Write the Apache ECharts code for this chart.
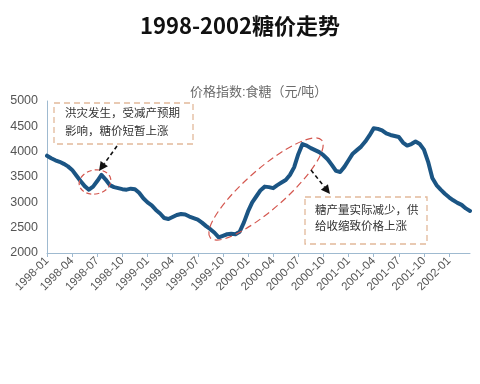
<!DOCTYPE html>
<html>
<head>
<meta charset="utf-8">
<script src="https://cdn.jsdelivr.net/npm/echarts@6/dist/echarts.min.js"></script>
<style>html,body{margin:0;padding:0;background:#fff;}#c{width:480px;height:384px;}</style>
</head>
<body>
<div id="c"></div>
<script>
// Semi-monthly observations from 1998-01 to 2002-03
const startYear = 1998;
const halfMonthCount = 102;
const sugarPrice = [
  3920, 3870, 3830, 3800, 3760, 3710, 3640, 3530, 3420, 3320,
  3250, 3310, 3420, 3540, 3450, 3340, 3300, 3280, 3260, 3250,
  3270, 3260, 3190, 3080, 3000, 2940, 2850, 2780, 2690, 2670,
  2710, 2750, 2770, 2760, 2720, 2690, 2660, 2600, 2530, 2470,
  2400, 2310, 2340, 2370, 2380, 2370, 2420, 2600, 2820, 3000,
  3120, 3240, 3310, 3300, 3280, 3340, 3390, 3440, 3540, 3690,
  3950, 4150, 4120, 4070, 4030, 3990, 3930, 3850, 3740, 3620,
  3600, 3700, 3830, 3960, 4030, 4100, 4200, 4320, 4460, 4450,
  4420, 4360, 4330, 4310, 4290, 4180, 4120, 4150, 4200, 4150,
  4040, 3800, 3480, 3340, 3250, 3170, 3100, 3040, 2990, 2950,
  2880, 2830
];
const tickLabels = ['1998-01','1998-04','1998-07','1998-10','1999-01','1999-04','1999-07','1999-10',
  '2000-01','2000-04','2000-07','2000-10','2001-01','2001-04','2001-07','2001-10','2002-01'];
const yTicks = [2000, 2500, 3000, 3500, 4000, 4500, 5000];
const titleText = '1998-2002糖价走势';
const subTitleText = '价格指数:食糖（元/吨）';
const note1 = ['洪灾发生，受减产预期', '影响，糖价短暂上涨'];
const note2 = ['糖产量实际减少，供', '给收缩致价格上涨'];

const categories = [];
for (let i = 0; i < halfMonthCount; i++) {
  const m = Math.floor(i / 2);
  const y = startYear + Math.floor(m / 12);
  const mm = String(m % 12 + 1).padStart(2, '0');
  categories.push(y + '-' + mm + (i % 2 === 0 ? '-01' : '-16'));
}
const isTick = (idx) => tickLabels.indexOf(categories[idx].slice(0, 7)) >= 0 && categories[idx].endsWith('-01');

const FONT = '"Liberation Sans", "Noto Sans CJK SC", sans-serif';
const chart = echarts.init(document.getElementById('c'), null, {renderer: 'canvas'});

function arrow(x1, y1, x2, y2) {
  const dx = x2 - x1, dy = y2 - y1, L = Math.sqrt(dx*dx + dy*dy);
  const ux = dx / L, uy = dy / L;
  const hl = 9, hw = 4.5;
  const bx = x2 - ux * hl, by = y2 - uy * hl;
  return [
    {type: 'line', shape: {x1: x1, y1: y1, x2: bx, y2: by},
     style: {stroke: '#111', lineWidth: 1.6, lineDash: [4, 3]}, z: 10},
    {type: 'polygon', shape: {points: [[x2, y2], [bx - uy * hw, by + ux * hw], [bx + uy * hw, by - ux * hw]]},
     style: {fill: '#111'}, z: 10}
  ];
}

const option = {
  animation: false,
  backgroundColor: '#fff',
  title: [
    {text: titleText, left: 'center', top: 10,
     textStyle: {fontSize: 22, fontWeight: 'bold', color: '#111', fontFamily: '"Noto Sans CJK SC", sans-serif'}},
    {text: subTitleText, left: 185, top: 81,
     textStyle: {fontSize: 13, fontWeight: 'normal', color: '#6b6b6b', fontFamily: FONT}}
  ],
  grid: {left: 47, right: 10, top: 101, bottom: 131},
  xAxis: {
    type: 'category',
    data: categories,
    boundaryGap: false,
    axisLine: {lineStyle: {color: '#9fbad0', width: 1}},
    axisTick: {interval: (i) => isTick(i), length: 4, lineStyle: {color: '#9fbad0'}},
    axisLabel: {interval: (i) => isTick(i), rotate: 45, fontSize: 11.5, color: '#555', margin: 6,
      fontFamily: FONT, formatter: (v) => v.slice(0, 7)},
    splitLine: {show: false}
  },
  yAxis: {
    type: 'value', min: yTicks[0], max: yTicks[yTicks.length - 1], interval: 500,
    axisLine: {show: true, lineStyle: {color: '#9fbad0', width: 1}},
    axisTick: {show: false},
    axisLabel: {fontSize: 12.5, color: '#555', margin: 9, fontFamily: FONT, formatter: (v) => String(v)},
    splitLine: {show: false}
  },
  series: [{
    type: 'line', data: sugarPrice, showSymbol: false, smooth: false,
    lineStyle: {color: '#1b5584', width: 4, join: 'round', cap: 'round'}, z: 5
  }],
  graphic: [
    {type: 'rect', shape: {x: 54, y: 103, width: 139, height: 41},
     style: {fill: '#fff', stroke: '#e2b99a', lineWidth: 1.3, lineDash: [6, 4]}, z: 8},
    {type: 'text', style: {text: note1[0], x: 65, y: 108, font: '11.5px ' + FONT, fill: '#333'}, z: 9},
    {type: 'text', style: {text: note1[1], x: 65, y: 126, font: '11.5px ' + FONT, fill: '#333'}, z: 9},
    {type: 'rect', shape: {x: 305, y: 197, width: 122, height: 47},
     style: {fill: '#fff', stroke: '#e2b99a', lineWidth: 1.3, lineDash: [6, 4]}, z: 8},
    {type: 'text', style: {text: note2[0], x: 315, y: 205, font: '11.5px ' + FONT, fill: '#333'}, z: 9},
    {type: 'text', style: {text: note2[1], x: 315, y: 221, font: '11.5px ' + FONT, fill: '#333'}, z: 9},
    {type: 'ellipse', shape: {cx: 95, cy: 182, rx: 16, ry: 12}, originX: 95, originY: 182, rotation: 0.2,
     style: {fill: 'none', stroke: '#d4574f', lineWidth: 1.2, lineDash: [5, 3]}, z: 7},
    {type: 'ellipse', shape: {cx: 266, cy: 189, rx: 74, ry: 20}, originX: 266, originY: 189, rotation: 0.72,
     style: {fill: 'none', stroke: '#d4574f', lineWidth: 1.2, lineDash: [7, 4]}, z: 7}
  ].concat(arrow(117, 146, 99, 171)).concat(arrow(311, 170, 330, 194))
};
chart.setOption(option);
</script>
</body>
</html>
